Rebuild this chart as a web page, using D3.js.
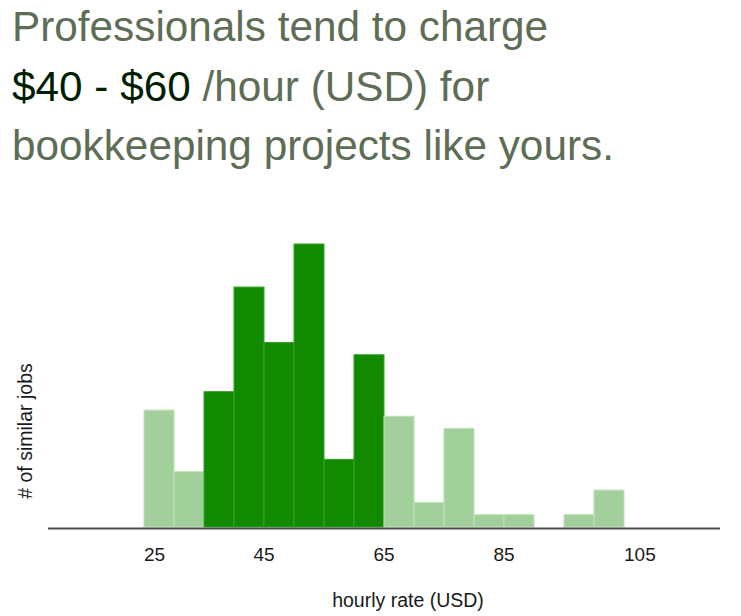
<!DOCTYPE html>
<html>
<head>
<meta charset="utf-8">
<script src="https://cdn.jsdelivr.net/npm/d3@7"></script>
<style>
  html, body { margin: 0; padding: 0; background: #fff; }
  svg { display: block; font-family: "Liberation Sans", Arial, Helvetica, sans-serif; }
</style>
</head>
<body>
<svg id="chart" width="741" height="616"></svg>
<script>
// ---- data ----
const titleLines = [
  [{ text: "Professionals tend to charge", strong: false }],
  [{ text: "$40 - $60", strong: true }, { text: " /hour (USD) for", strong: false }],
  [{ text: "bookkeeping projects like yours.", strong: false }]
];
const binEdges = [25, 30, 35, 40, 45, 50, 55, 60, 65, 70, 75, 80, 85, 90, 95, 100, 105];
const jobCounts = [19, 9, 22, 39, 30, 46, 11, 28, 18, 4, 16, 2, 2, 0, 2, 6];
const highlightRange = [35, 65];
const tickValues = [25, 45, 65, 85, 105];
const xLabel = "hourly rate (USD)";
const yLabel = "# of similar jobs";

// ---- build ----
const svg = d3.select("#chart");
const plot = { left: 48, right: 720, base: 527 };

const bins = jobCounts.map((c, i) => ({ x0: binEdges[i], x1: binEdges[i + 1], count: c }));
const pad = 16;
const x = d3.scaleLinear()
  .domain([binEdges[0] - pad, binEdges[binEdges.length - 1] + pad])
  .range([plot.left, plot.right]);
const y = d3.scaleLinear()
  .domain([0, d3.max(jobCounts)])
  .range([plot.base, 244]);
const isHi = d => d.x0 >= highlightRange[0] && d.x1 <= highlightRange[1];

// title
const title = svg.append("text")
  .attr("x", 12)
  .attr("font-size", 42.3);
titleLines.forEach((line, li) => {
  line.forEach((seg, si) => {
    const t = title.append("tspan")
      .text(seg.text)
      .attr("fill", seg.strong ? "#001e00" : "#5e6d55");
    if (si === 0) t.attr("x", 12).attr("y", 41 + li * 59.5);
  });
});

// bars
svg.append("g")
  .selectAll("rect")
  .data(bins.filter(d => d.count > 0))
  .join("rect")
  .attr("x", d => x(d.x0))
  .attr("width", d => x(d.x1) - x(d.x0))
  .attr("y", d => y(d.count))
  .attr("height", d => y(0) - y(d.count))
  .attr("fill", d => isHi(d) ? "#118a00" : "#a2d09a")
  .attr("stroke", d => isHi(d) ? "#3a9f2c" : "#bfe0b9")
  .attr("stroke-width", 1);

// x axis line
svg.append("line")
  .attr("x1", plot.left).attr("x2", plot.right)
  .attr("y1", plot.base + 1.5).attr("y2", plot.base + 1.5)
  .attr("stroke", "#4d4d4d").attr("stroke-width", 2);

// tick labels
svg.append("g")
  .selectAll("text")
  .data(tickValues)
  .join("text")
  .attr("x", d => x(d))
  .attr("y", 561)
  .attr("text-anchor", (d, i) => (i === 0 || i === tickValues.length - 1) ? "start" : "middle")
  .attr("font-size", 19)
  .attr("fill", "#1a1a1a")
  .text(d => d);

// axis titles
svg.append("text")
  .attr("x", 408).attr("y", 607)
  .attr("text-anchor", "middle")
  .attr("font-size", 19.5)
  .attr("fill", "#1a1a1a")
  .text(xLabel);

svg.append("text")
  .attr("transform", "translate(32,431) rotate(-90)")
  .attr("text-anchor", "middle")
  .attr("font-size", 19.5)
  .attr("fill", "#1a1a1a")
  .text(yLabel);
</script>
</body>
</html>
